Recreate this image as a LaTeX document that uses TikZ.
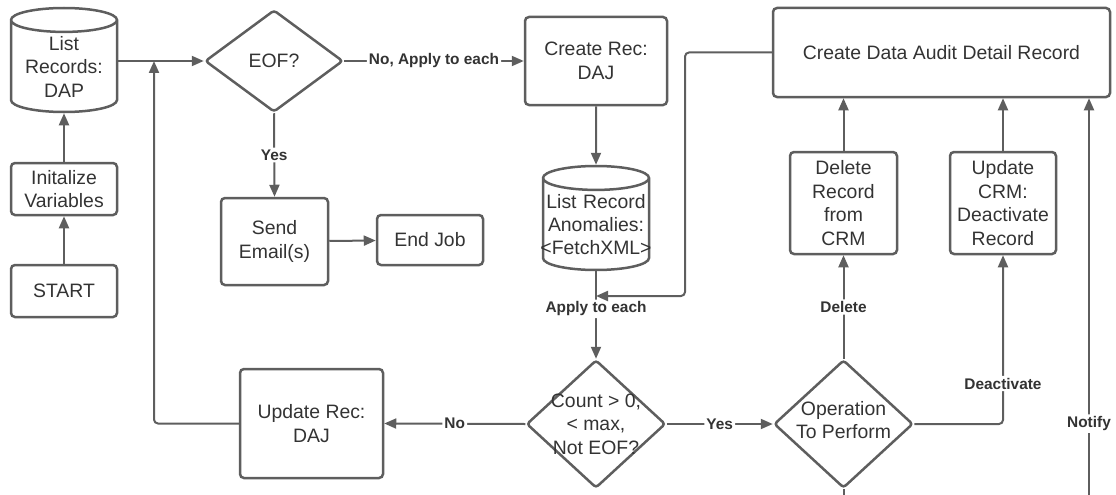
\documentclass[tikz,border=0pt]{standalone}
\usepackage{fontspec}
\setmainfont{Liberation Sans}
\usetikzlibrary{shapes.geometric,arrows.meta}
\definecolor{linegray}{HTML}{5E5E5E}
\definecolor{textgray}{HTML}{333333}

\tikzset{
  box/.style={draw=linegray, line width=2.5pt, rounded corners=4pt, align=center,
    text=textgray, font=\fontsize{19.4}{23.4}\selectfont, inner sep=2pt},
  db/.style={cylinder, shape border rotate=90, aspect=0.23, draw=linegray, line width=2.5pt,
    minimum width=106pt, minimum height=104pt, inner sep=0pt, text width=104pt,
    align=center, text=textgray, font=\fontsize{19.4}{23.4}\selectfont, anchor=shape center},
  decision/.style={diamond, draw=linegray, line width=2.5pt, rounded corners=3pt, inner sep=0pt},
  dtext/.style={align=center, text=textgray, font=\fontsize{19.4}{23.4}\selectfont, inner sep=0pt},
  arr/.style={draw=linegray, line width=2pt, rounded corners=4pt, -{Triangle[length=12pt,width=10pt]}},
  wire/.style={draw=linegray, line width=2pt},
  lbl/.style={fill=white, text=textgray, font=\bfseries\fontsize{15.4}{18}\selectfont, inner sep=2pt}
}

\begin{document}
\begin{tikzpicture}[x=1pt,y=-1pt]
  \useasboundingbox (0,0) rectangle (1116,495);

  % left column
  \node[db] (dap) at (64,60) {List\\Records:\\DAP};
  \node[box, minimum width=106pt, minimum height=52pt] (init) at (64,189) {Initalize\\Variables};
  \node[box, minimum width=106pt, minimum height=52pt] (start) at (64,291) {START};

  % end of file check
  \node[decision, minimum width=138pt, minimum height=102pt,
    label={[dtext]center:EOF?}] (eof) at (274,61) {};
  \node[box, minimum width=107pt, minimum height=87pt] (email) at (274.5,241.5) {Send\\Email(s)};
  \node[box, minimum width=106pt, minimum height=50pt] (endjob) at (430,240) {End Job};

  % middle column
  \node[box, minimum width=142pt, minimum height=88pt] (createrec) at (596,61) {Create Rec:\\DAJ};
  \node[db] (anom) at (596,218) {List Record\\Anomalies:\\\makebox[\linewidth]{<FetchXML>}};
  \node[decision, minimum width=139pt, minimum height=128pt,
    label={[dtext]center:{Count > 0,\\< max,\\Not EOF?}}] (count) at (596,424) {};
  \node[box, minimum width=143pt, minimum height=109pt] (updrec) at (311.5,423.5) {Update Rec:\\DAJ};

  % right side
  \node[decision, minimum width=139pt, minimum height=128pt,
    label={[dtext, yshift=4pt]center:{Operation\\To Perform}}] (oper) at (843.5,424) {};
  \node[box, minimum width=107pt, minimum height=102pt] (delrec) at (843.5,203) {Delete\\Record\\from\\CRM};
  \node[box, minimum width=106pt, minimum height=102pt] (updcrm) at (1003,203) {Update\\CRM:\\Deactivate\\Record};
  \node[box, minimum width=337pt, minimum height=89pt] (audit) at (941.5,52.5) {Create Data Audit Detail Record};

  \coordinate (loopjoin) at (154,61);
  \coordinate (bend) at (685,296);
  \coordinate (merge) at (596,296);
  \coordinate (notifyfoot) at (1089,495);
  \coordinate (operfoot) at (843.5,495);

  % connectors
  \draw[arr] (start) -- (init);
  \draw[arr] (init) -- (dap);
  \draw[arr] (dap.east |- eof.west) -- (eof.west);
  \draw[arr] (updrec.west) -| (loopjoin);
  \draw[arr] (eof.east) -- node[lbl] {No, Apply to each} (createrec.west);
  \draw[arr] (eof.south) -- node[lbl] {Yes} (email.north);
  \draw[arr] (email) -- (endjob);
  \draw[arr] (createrec) -- (anom);
  \draw[arr] (anom.south) -- node[lbl, pos=0.43] {Apply to each} (count.north);
  \draw[arr] (audit.west) -| (bend) -- (merge);
  \draw[arr] (count.west) -- node[lbl] {No} (updrec.east);
  \draw[arr] (count.east) -- node[lbl] {Yes} (oper.west);
  \draw[arr] (oper.north) -- node[lbl] {Delete} (delrec.south);
  \draw[arr] (oper.east) -| node[lbl, pos=0.62] {Deactivate} (updcrm.south);
  \draw[arr] (delrec.north) -- (delrec.north |- audit.south);
  \draw[arr] (updcrm.north) -- (updcrm.north |- audit.south);
  \draw[arr] (notifyfoot) -- node[lbl, pos=0.18] {Notify} (notifyfoot |- audit.south);
  \draw[wire] (oper.south) -- (operfoot);
\end{tikzpicture}
\end{document}
